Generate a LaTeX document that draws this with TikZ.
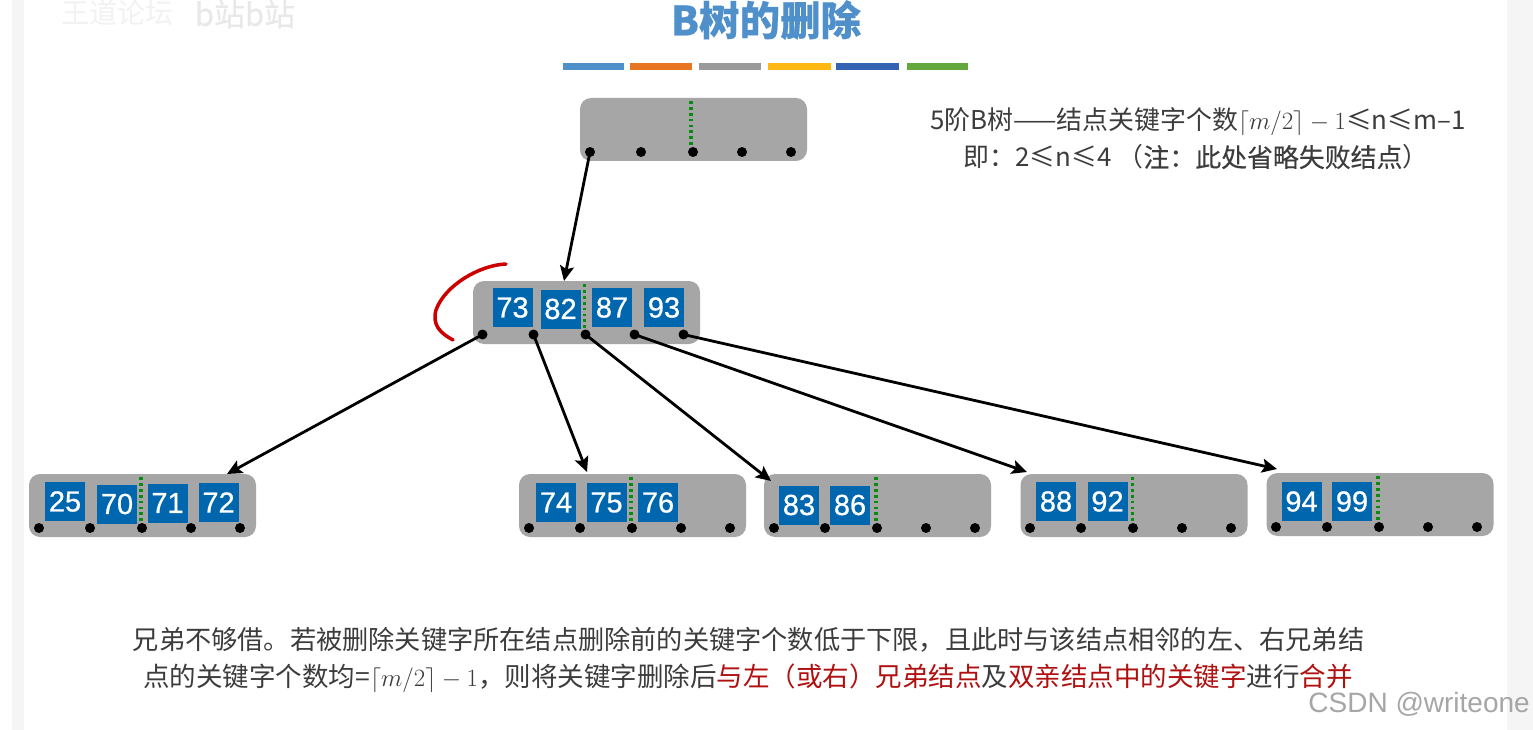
\documentclass[tikz,border=0pt]{standalone}
\usepackage{fontspec}
\setmainfont{Liberation Sans}
\newfontfamily\cjk{Noto Sans CJK SC}
\newfontfamily\cjkb[FakeBold=0.3]{Noto Sans CJK SC}
\newfontfamily\keyfont[FakeBold=0.7]{Liberation Sans}
\definecolor{keyblue}{HTML}{0066AE}
\definecolor{nodegrey}{HTML}{A6A6A6}
\definecolor{txtgrey}{HTML}{3C3C3C}
\definecolor{darkred}{HTML}{B01010}
\definecolor{titleblue}{HTML}{4F90CB}
\definecolor{dotgreen}{HTML}{0B8A12}
\usetikzlibrary{arrows.meta}
\newcommand{\ceilm}{$\lceil m/2\rceil - 1$}
\tikzset{
 x=1pt,y=-1pt,
 keybox/.style={fill=keyblue,text=white,minimum width=40pt,minimum height=39pt,inner sep=0pt,font=\keyfont\fontsize{29}{30}\selectfont},
 ptr/.style={circle,fill=black,inner sep=0pt,minimum size=10pt},
 sepline/.style={dotgreen,line width=3.2pt,dash pattern=on 2.8pt off 3.1pt},
 link/.style={black,line width=2.8pt,-{Stealth[length=15pt,width=14pt,inset=3pt]}},
 body/.style={text=txtgrey,font=\cjk\fontsize{25.9}{26}\selectfont,inner sep=0pt,anchor=base},
 lowtext/.style={text=txtgrey,font=\cjk\fontsize{26.2}{27}\selectfont,inner sep=0pt,anchor=base}
}
\newcommand{\bn}[2]{\fill[nodegrey,rounded corners=11pt] (#1,#2) rectangle ++(227,63);}
\newcommand{\ptrs}[3]{%
  \node[ptr] (#1a) at (#2+10,#3) {};
  \node[ptr] (#1b) at (#2+61,#3) {};
  \node[ptr] (#1c) at (#2+113,#3) {};
  \node[ptr] (#1d) at (#2+162,#3) {};
  \node[ptr] (#1e) at (#2+211,#3) {};
}
\begin{document}
\begin{tikzpicture}
\useasboundingbox (0,0) rectangle (1533,730);
\fill[white] (0,0) rectangle (1533,730);
\fill[black!4] (12,0) rectangle (24,730);
\fill[black!4] (1507,0) rectangle (1533,730);
% watermark
\node[text=black!5,font=\cjk\fontsize{28}{28}\selectfont,inner sep=0pt] (wm1) at (117,13) {王道论坛};
\node[text=black!9,font=\cjkb\fontsize{31}{31}\selectfont,inner sep=0pt] (wm2) at (245,14) {b站b站};
% title
\node[text=titleblue,font=\cjkb\bfseries\fontsize{40.5}{41}\selectfont,inner sep=0pt] (title) at (766,20) {B树的删除};
\foreach \a/\b/\c in {563/624/4F90CB,630/692/E8751F,699/761/9A9A9A,768/831/FDB813,836/899/3563B4,907/968/62A83C}{
  \definecolor{tmpc}{HTML}{\c}
  \fill[tmpc] (\a,63) rectangle (\b,70);
}
% root
\bn{580}{98}
\draw[sepline] (691,101) -- (691,147);
\ptrs{r}{580}{152}
% middle
\bn{473}{281}
\node[keybox] (k73) at (512.5,307.5) {73};
\node[keybox] (k82) at (560.5,309) {82};
\node[keybox] (k87) at (612,307.5) {87};
\node[keybox] (k93) at (664,307.5) {93};
\draw[sepline] (584.5,284) -- (584.5,330);
\ptrs{m}{472.5}{334.5}
% leaf 1
\bn{29}{474}
\node[keybox] (k25) at (65,501.5) {25};
\node[keybox] (k70) at (117,504) {70};
\node[keybox] (k71) at (167.5,503) {71};
\node[keybox] (k72) at (218.5,502.5) {72};
\draw[sepline] (141,477) -- (141,523);
\ptrs{la}{29}{528}
% leaf 2
\bn{519}{474}
\node[keybox] (k74) at (556,502.5) {74};
\node[keybox] (k75) at (606.5,502.5) {75};
\node[keybox] (k76) at (658,502.5) {76};
\draw[sepline] (631,477) -- (631,523);
\ptrs{lb}{519}{528}
% leaf 3
\bn{764}{474}
\node[keybox] (k83) at (799,505) {83};
\node[keybox] (k86) at (850,505) {86};
\draw[sepline] (876,477) -- (876,523);
\ptrs{lc}{764}{528}
% leaf 4
\bn{1020.5}{474}
\node[keybox] (k88) at (1056,501.5) {88};
\node[keybox] (k92) at (1107.5,501.5) {92};
\draw[sepline] (1132.5,477) -- (1132.5,523);
\ptrs{ld}{1020}{528}
% leaf 5
\bn{1266.5}{473}
\node[keybox] (k94) at (1301.5,501.5) {94};
\node[keybox] (k99) at (1352,501.5) {99};
\draw[sepline] (1378,476) -- (1378,522);
\ptrs{le}{1266}{527}
% arrow ends
\coordinate (tm) at (564,281);
\coordinate (t1) at (227,474);
\coordinate (t2) at (587,472);
\coordinate (t3) at (771,481);
\coordinate (t4) at (1027,472);
\coordinate (t5) at (1277,469);
\draw[link] (ra.center) -- (tm);
\draw[link] (ma.center) -- (t1);
\draw[link] (mb.center) -- (t2);
\draw[link] (mc.center) -- (t3);
\draw[link] (md.center) -- (t4);
\draw[link] (me.center) -- (t5);
% red stroke
\draw[red!80!black,line width=3.5pt,line cap=round] (506,264) .. controls (480,265) and (445,285) .. (436,310) .. controls (432,325) and (440,333) .. (453,340);
% text top right
\node[body] (t1a) at (1198,130) {5阶B树——结点关键字个数\ceilm≤n≤m–1};
\node[body] (t1b) at (1196,167) {即：2≤n≤4 （{\cjkb 注：此处省略失败结点}）};
% bottom text
\node[lowtext] (t2a) at (748.5,649.5) {兄弟不够借。若被删除关键字所在结点删除前的关键字个数低于下限，且此时与该结点相邻的左、右兄弟结};
\node[lowtext,font=\cjk\fontsize{26.5}{27}\selectfont] (t2b) at (748,686.5) {点的关键字个数均=\ceilm，则将关键字删除后\textcolor{darkred}{与左（或右）兄弟结点}及\textcolor{darkred}{双亲结点中的关键字}进行\textcolor{darkred}{合并}};
\node[text=black!35,font=\fontsize{28}{28}\selectfont,inner sep=0pt,anchor=east] (csdn) at (1530,704) {CSDN @writeone};
\end{tikzpicture}
\end{document}
